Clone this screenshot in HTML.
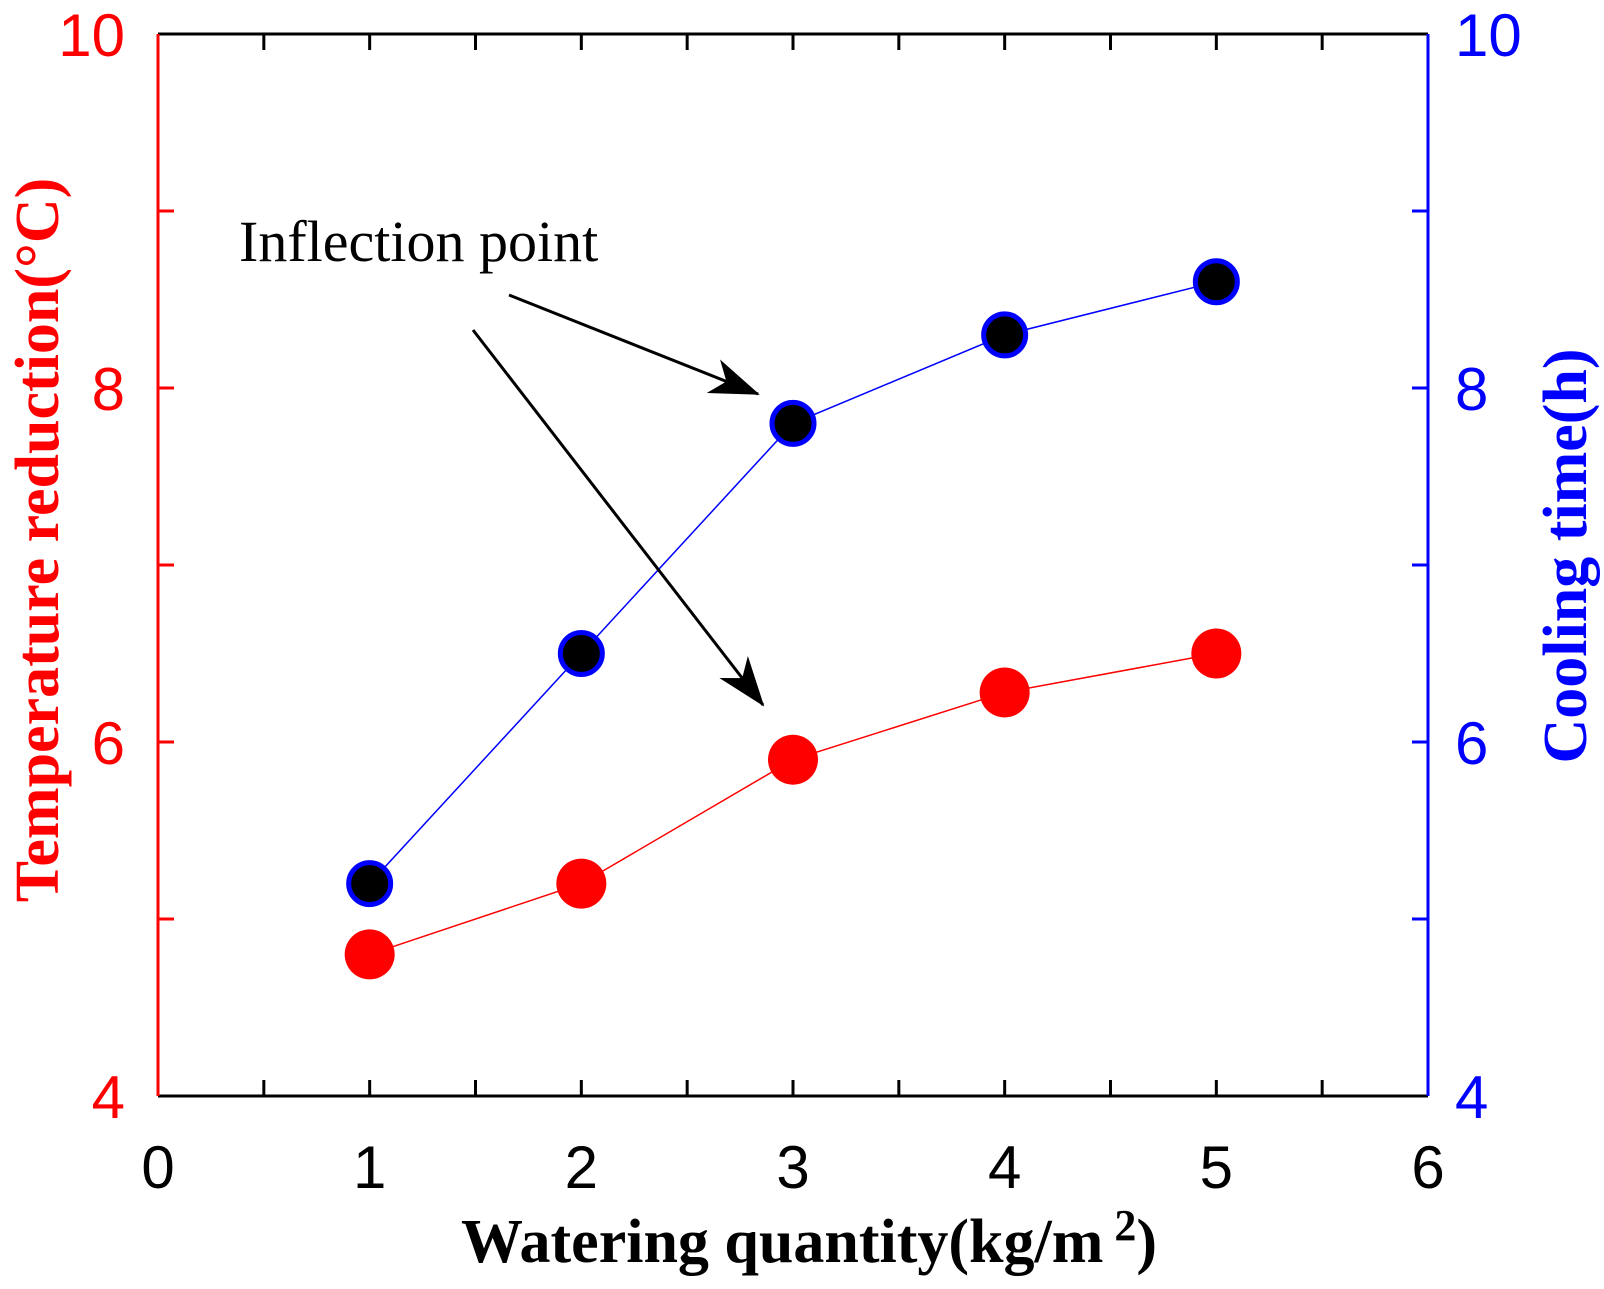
<!DOCTYPE html>
<html><head><meta charset="utf-8"><style>
body{margin:0;background:#fff}
</style></head><body>
<svg id="c" width="1604" height="1284" xmlns="http://www.w3.org/2000/svg" font-family="Liberation Sans, sans-serif">
<defs></defs>
</svg>
<script>
const xCats=[1,2,3,4,5];
const tempReduction=[4.8,5.2,5.9,6.28,6.5];
const coolingTime=[5.2,6.5,7.8,8.3,8.6];
const xTicks=[0,1,2,3,4,5,6];
const yTicks=[4,6,8,10];
const NS="http://www.w3.org/2000/svg";
const svg=document.getElementById('c');
const L=158,R=1428,T=34,B=1096;
const X=v=>L+(v-0)/6*(R-L);
const Y=v=>B-(v-4)/6*(B-T);
const SERIF='font-family:"Liberation Serif",serif';
function el(t,a,p){const e=document.createElementNS(NS,t);for(const k in a)e.setAttribute(k,a[k]);(p||svg).appendChild(e);return e;}
const defs=svg.querySelector('defs');
const m=el('marker',{id:'ah2',markerWidth:50,markerHeight:40,refX:48,refY:20,orient:'auto',markerUnits:'userSpaceOnUse',viewBox:'0 0 50 40'},defs);
el('path',{d:'M0,2 L50,20 L0,38 L14,20 z',fill:'#000'},m);
let e=el('line',{x1:L,y1:T,x2:R,y2:T,stroke:'#000','stroke-width':3});

e=el('line',{x1:L,y1:B,x2:R,y2:B,stroke:'#000','stroke-width':3});

e=el('line',{x1:L,y1:T,x2:L,y2:B,stroke:'#f00','stroke-width':3});

e=el('line',{x1:R,y1:T,x2:R,y2:B,stroke:'#00f','stroke-width':3});

for(let v=0.5;v<6;v+=0.5){
 e=el('line',{x1:X(v),y1:B,x2:X(v),y2:B-16,stroke:'#000','stroke-width':3});
 
 e=el('line',{x1:X(v),y1:T,x2:X(v),y2:T+16,stroke:'#000','stroke-width':3});
 
}
xTicks.forEach(v=>{
 e=el('text',{x:X(v),y:1188,'text-anchor':'middle','font-size':60,fill:'#000'});e.textContent=v;
 
});
for(let v=5;v<10;v+=1){
 e=el('line',{x1:L,y1:Y(v),x2:L+16,y2:Y(v),stroke:'#f00','stroke-width':3});
 
 e=el('line',{x1:R,y1:Y(v),x2:R-16,y2:Y(v),stroke:'#00f','stroke-width':3});
 
}
yTicks.forEach(v=>{
 e=el('text',{x:125,y:Y(v)+22,'text-anchor':'end','font-size':60,fill:'#f00'});e.textContent=v;
 
 e=el('text',{x:1455,y:Y(v)+22,'text-anchor':'start','font-size':60,fill:'#00f'});e.textContent=v;
 
});
e=el('polyline',{points:xCats.map((c,i)=>X(c)+','+Y(tempReduction[i])).join(' '),fill:'none',stroke:'#f00','stroke-width':1.5});

e=el('polyline',{points:xCats.map((c,i)=>X(c)+','+Y(coolingTime[i])).join(' '),fill:'none',stroke:'#00f','stroke-width':1.5});

xCats.forEach((c,i)=>{
 e=el('circle',{cx:X(c),cy:Y(tempReduction[i]),r:25,fill:'#f00'});
 
 e=el('circle',{cx:X(c),cy:Y(coolingTime[i]),r:21,fill:'#000',stroke:'#00f','stroke-width':5});
 
});
e=el('text',{x:239,y:261,'font-size':58,fill:'#000',style:SERIF});e.textContent='Inflection point';

e=el('line',{x1:509,y1:295,x2:758,y2:394,stroke:'#000','stroke-width':3,'marker-end':'url(#ah2)'});

e=el('line',{x1:473,y1:330,x2:763,y2:705,stroke:'#000','stroke-width':3,'marker-end':'url(#ah2)'});

e=el('text',{x:809,y:1262,'text-anchor':'middle','font-size':62,'font-weight':'bold',fill:'#000',style:SERIF});
e.textContent='Watering quantity(kg/m';
const s=el('tspan',{'font-size':44,dy:-22},e);s.textContent=' 2';
const s2=el('tspan',{dy:22},e);s2.textContent=')';

e=el('text',{x:0,y:0,transform:'translate(58,540) rotate(-90)','text-anchor':'middle','font-size':62,'font-weight':'bold',fill:'#f00',style:SERIF});
e.textContent='Temperature reduction(°C)';

e=el('text',{x:0,y:0,transform:'translate(1586,556) rotate(-90)','text-anchor':'middle','font-size':62,'font-weight':'bold',fill:'#00f',style:SERIF});
e.textContent='Cooling time(h)';

</script>
</body></html>
